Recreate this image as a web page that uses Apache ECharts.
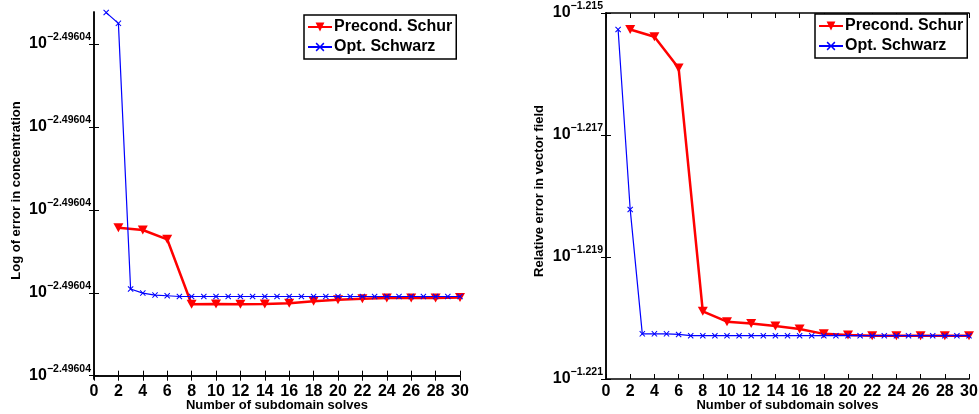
<!DOCTYPE html>
<html>
<head>
<meta charset="utf-8">
<script src="https://cdn.jsdelivr.net/npm/echarts@6/dist/echarts.min.js"></script>
<style>html,body{margin:0;padding:0;background:#fff}#c{width:979px;height:414px}</style>
</head>
<body>
<div id="c"></div>
<script>
// ---------- data ----------
const seriesNames = ['Precond. Schur', 'Opt. Schwarz'];
const xTicks = [0, 2, 4, 6, 8, 10, 12, 14, 16, 18, 20, 22, 24, 26, 28, 30];

// Left panel: values in units of the (identical-looking) log ticks, 0 = lowest tick
const leftTickPos = [0, 1, 2, 3, 4];
const leftTickExp = ['\u22122.49604', '\u22122.49604', '\u22122.49604', '\u22122.49604', '\u22122.49604'];
const schurX = [2, 4, 6, 8, 10, 12, 14, 16, 18, 20, 22, 24, 26, 28, 30];
const leftSchur = [1.785, 1.757, 1.645, 0.861, 0.865, 0.861, 0.865, 0.873, 0.897, 0.917, 0.929, 0.937, 0.937, 0.937, 0.943];
const schwarzX = [1,2,3,4,5,6,7,8,9,10,11,12,13,14,15,16,17,18,19,20,21,22,23,24,25,26,27,28,29,30];
const leftSchwarz = [4.38, 4.25, 1.045, 0.996, 0.972, 0.964, 0.955, 0.955, 0.955, 0.955, 0.955, 0.955, 0.955, 0.955, 0.955,
                     0.955, 0.955, 0.955, 0.955, 0.955, 0.955, 0.955, 0.955, 0.955, 0.955, 0.955, 0.955, 0.955, 0.955, 0.955];

// Right panel: log10 of relative error
const rightTickExp = [-1.221, -1.219, -1.217, -1.215];
const rightSchur = [-1.21527, -1.21539, -1.2159, -1.21989, -1.22006, -1.22009, -1.22013, -1.22018, -1.22026, -1.22028,
                    -1.22029, -1.22029, -1.22029, -1.22029, -1.22029];
const rightSchwarz = [-1.21527, -1.21822, -1.22026, -1.22026, -1.22026, -1.22027, -1.22029, -1.22029, -1.22029, -1.22029,
                      -1.22029, -1.22029, -1.22029, -1.22029, -1.22029, -1.22029, -1.22029, -1.22029, -1.22029, -1.22029,
                      -1.22029, -1.22029, -1.22029, -1.22029, -1.22029, -1.22029, -1.22029, -1.22029, -1.22029, -1.22029];

// ---------- chart ----------
const FONT = '"Liberation Sans", Arial, Helvetica, sans-serif';
const RED = '#ff0000', BLUE = '#0000ff';
const crossPath = 'path://M0,1.2L1.2,0L5,3.8L8.8,0L10,1.2L6.2,5L10,8.8L8.8,10L5,6.2L1.2,10L0,8.8L3.8,5Z';
const rich = {
  b: { fontSize: 16, fontWeight: 'bold', fontFamily: FONT, color: '#000', verticalAlign: 'middle' },
  s: { fontSize: 10.5, fontWeight: 'bold', fontFamily: FONT, color: '#000', padding: [0, 0, 13, 0], verticalAlign: 'middle' }
};
const axisLineStyle = { show: true, lineStyle: { color: '#000', width: 1.5 } };

function zip(xs, ys) { return xs.map((x, i) => [x, ys[i]]); }

function xAxes(gridIndex) {
  const base = {
    type: 'value', gridIndex, min: xTicks[0], max: xTicks[xTicks.length - 1], interval: 2,
    splitLine: { show: false }, axisLine: axisLineStyle,
    axisTick: { inside: true, length: 5, lineStyle: { color: '#000', width: 1 } }
  };
  return [
    Object.assign({}, base, {
      position: 'bottom',
      axisLabel: { margin: 5, fontSize: 16, fontWeight: 'bold', fontFamily: FONT, color: '#000' },
      name: 'Number of subdomain solves', nameLocation: 'middle', nameGap: 20, nameMoveOverlap: false,
      nameTextStyle: { fontSize: 13, fontWeight: 'bold', fontFamily: FONT, color: '#000', verticalAlign: 'top' }
    }),
    Object.assign({}, base, { position: 'top', axisLabel: { show: false } })
  ];
}

function yAxes(gridIndex, min, max, ticks, fmt, name, gap) {
  const tick = { inside: true, length: 5, customValues: ticks, lineStyle: { color: '#000', width: 1 } };
  return [
    {
      type: 'value', gridIndex, min, max, position: 'left',
      splitLine: { show: false }, axisLine: axisLineStyle, axisTick: tick,
      axisLabel: { customValues: ticks, formatter: fmt, rich, margin: 3 },
      name, nameLocation: 'middle', nameGap: gap, nameMoveOverlap: false,
      nameTextStyle: { fontSize: 13, fontWeight: 'bold', fontFamily: FONT, color: '#000', padding: [0, 0, 0, 10] }
    },
    {
      type: 'value', gridIndex, min, max, position: 'right',
      splitLine: { show: false }, axisLine: axisLineStyle, axisTick: tick,
      axisLabel: { show: false }
    }
  ];
}

const leftFmt = (v) => {
  const i = leftTickPos.indexOf(Math.round(v));
  return '{b|10}{s|' + leftTickExp[i] + '}';
};
const rightFmt = (v) => '{b|10}{s|' + (v < 0 ? '\u2212' : '') + Math.abs(v).toFixed(3) + '}';

function schurSeries(xi, yi, data) {
  return {
    name: seriesNames[0], type: 'line', xAxisIndex: xi, yAxisIndex: yi, data,
    symbol: 'triangle', symbolRotate: 180, symbolSize: [10, 9], showAllSymbol: true,
    lineStyle: { color: RED, width: 2.5 }, itemStyle: { color: RED },
    z: 3, animation: false, clip: false
  };
}
function schwarzSeries(xi, yi, data) {
  return {
    name: seriesNames[1], type: 'line', xAxisIndex: xi, yAxisIndex: yi, data,
    symbol: crossPath, symbolSize: 6, showAllSymbol: true,
    lineStyle: { color: BLUE, width: 1.2 }, itemStyle: { color: BLUE },
    z: 4, animation: false, clip: false
  };
}

function legend(left, top) {
  return {
    left, top, orient: 'vertical', data: seriesNames,
    itemWidth: 24, itemHeight: 11, itemGap: 4,
    backgroundColor: '#fff', borderColor: '#000', borderWidth: 1.5, padding: [4, 4, 4, 3],
    selectedMode: false,
    textStyle: { fontSize: 16, fontWeight: 'bold', fontFamily: FONT, color: '#000', padding: [0, 0, 0, -3] }
  };
}

const chart = echarts.init(document.getElementById('c'), null, { renderer: 'canvas' });
chart.setOption({
  animation: false,
  backgroundColor: '#fff',
  grid: [
    { left: 94, top: 12, width: 366, height: 367, containLabel: false, outerBoundsMode: 'none' },
    { left: 606, top: 13, width: 363, height: 366, containLabel: false, outerBoundsMode: 'none' }
  ],
  xAxis: [].concat(xAxes(0), xAxes(1)),
  yAxis: [].concat(
    yAxes(0, -0.04, 4.387, leftTickPos, leftFmt, 'Log of error in concentration', 71),
    yAxes(1, -1.221, -1.215, rightTickExp, rightFmt, 'Relative error in vector field', 60)
  ),
  legend: [legend(304, 15), legend(815, 14)],
  series: [
    schurSeries(0, 0, zip(schurX, leftSchur)),
    schwarzSeries(0, 0, zip(schwarzX, leftSchwarz)),
    schurSeries(2, 2, zip(schurX, rightSchur)),
    schwarzSeries(2, 2, zip(schwarzX, rightSchwarz))
  ]
});
</script>
</body>
</html>
